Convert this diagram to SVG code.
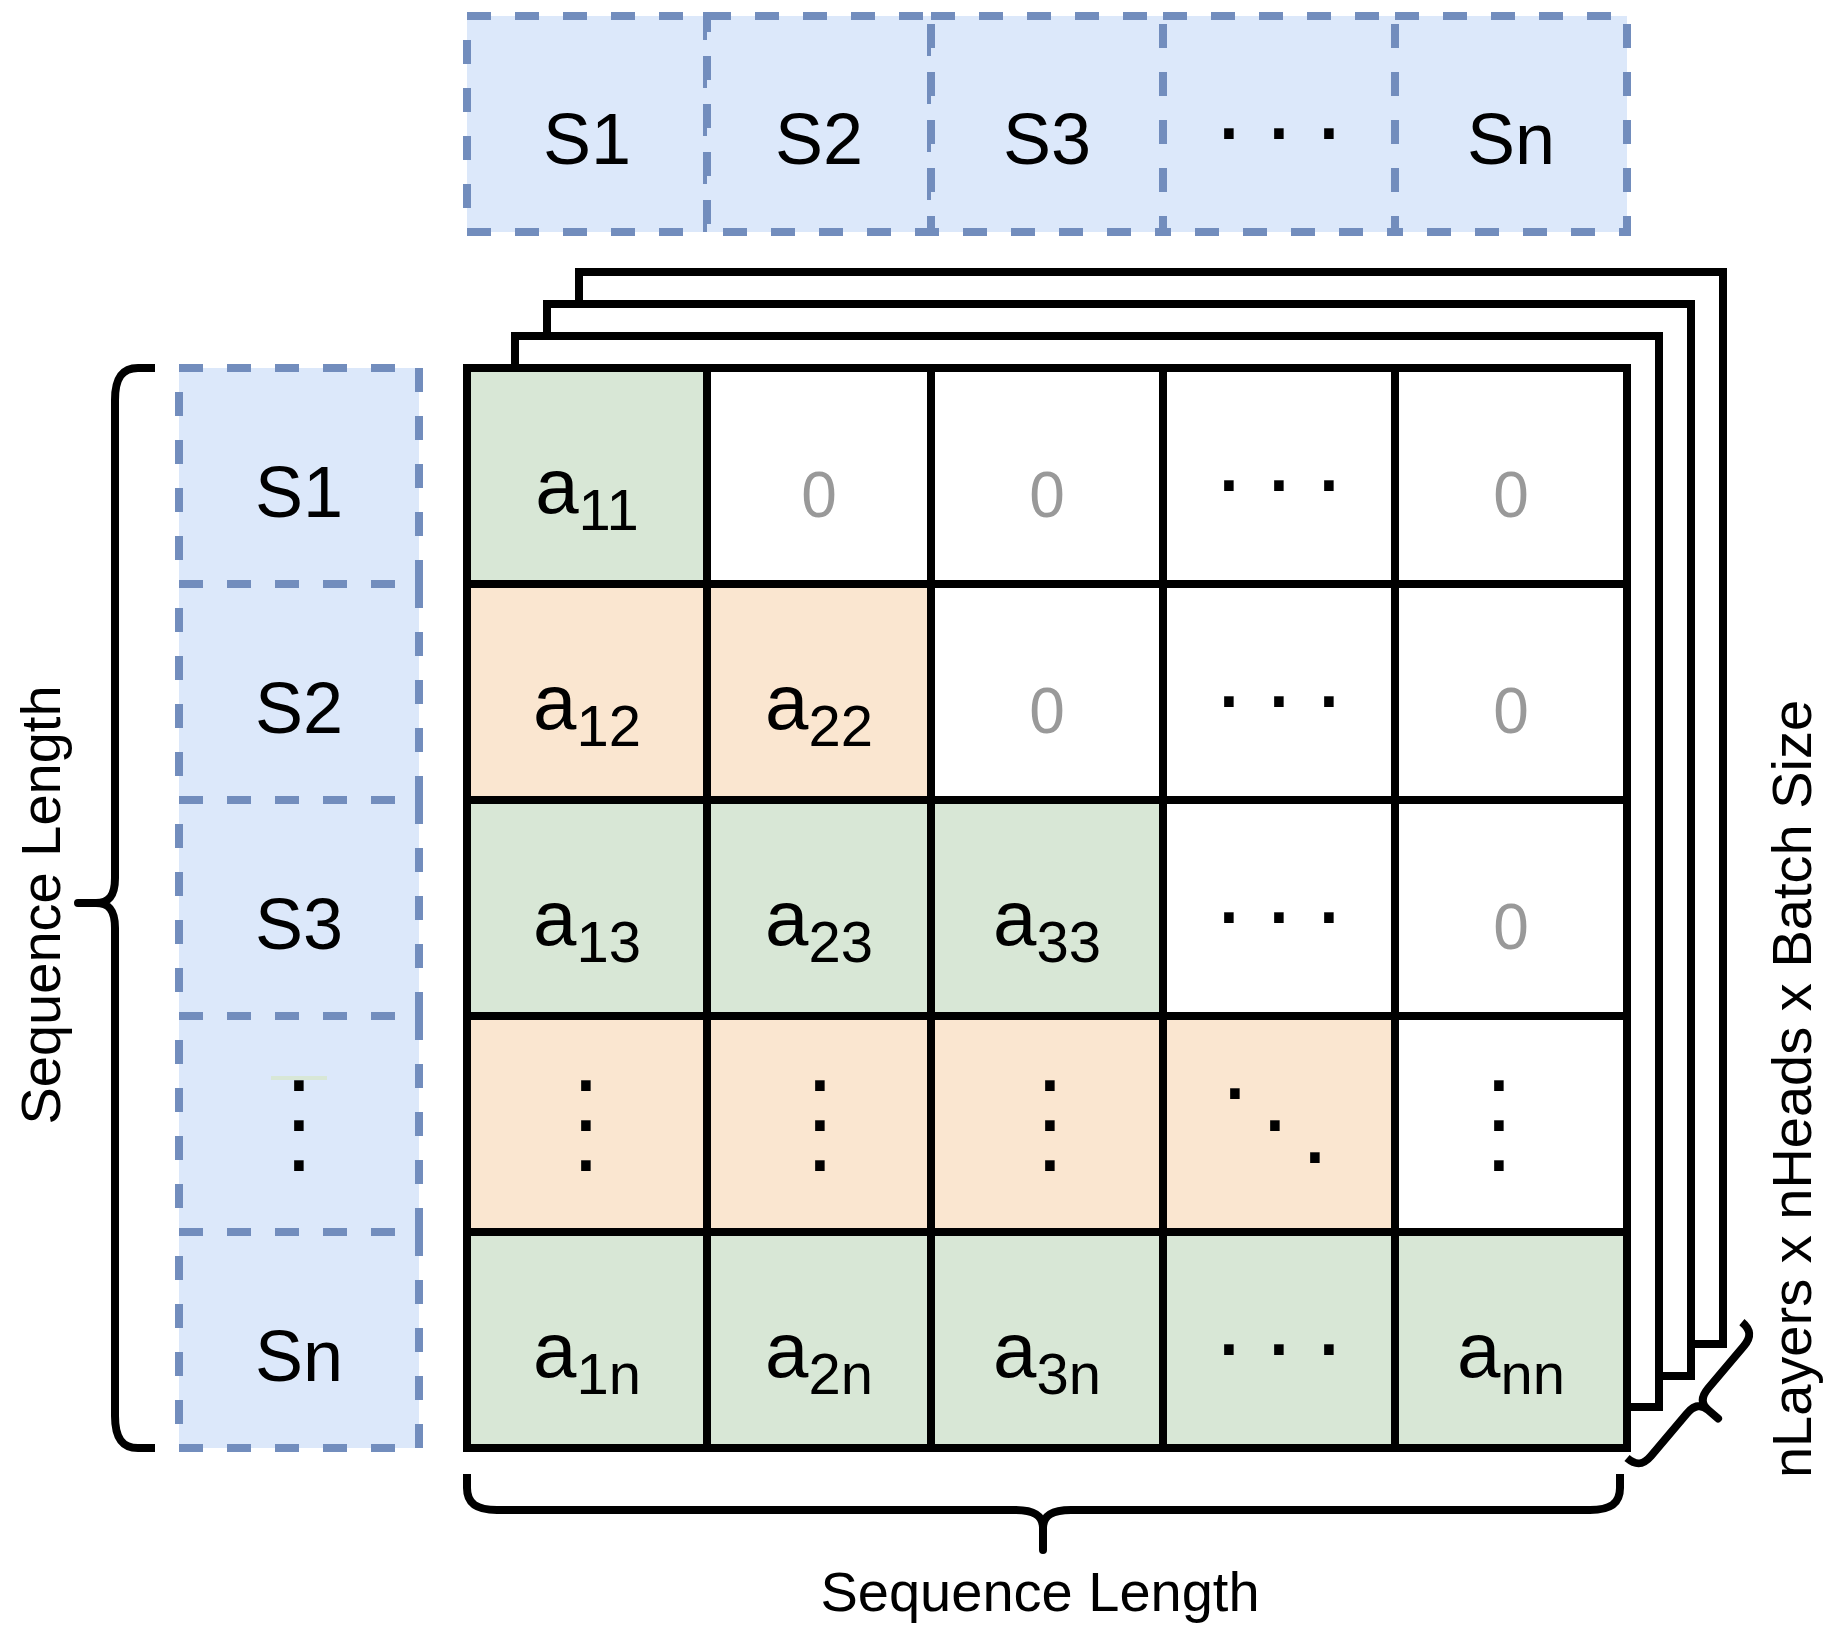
<svg xmlns="http://www.w3.org/2000/svg" width="1828" height="1634" viewBox="0 0 1828 1634">
<style>
.bg{fill:#fff}
.blue{fill:#dce8fa;stroke:#728dbd;stroke-width:8;stroke-dasharray:24 24}
.cell{stroke:#000;stroke-width:8}
.g{fill:#d8e7d6}.o{fill:#fae6d0}.w{fill:#fff}
.layer{fill:#fff;stroke:#000;stroke-width:8}
.brace{fill:none;stroke:#000;stroke-width:8;stroke-linejoin:round}
text{font-family:"Liberation Sans",Arial,Helvetica,sans-serif;text-anchor:middle;fill:#000}
.s{font-size:72px}.z{font-size:64px;fill:#999}.a{font-size:78px}.sub{font-size:58px}.dots{font-size:100px}.lbl{font-size:56px}
</style>
<rect class="bg" x="0" y="0" width="1828" height="1634"/>

<g id="layers">
<rect class="layer" x="579" y="272" width="1144" height="1072"/>
<rect class="layer" x="547" y="304" width="1144" height="1072"/>
<rect class="layer" x="515" y="336" width="1144" height="1071"/>
</g>

<g id="matrix">
<g id="row1">
<rect class="cell g" x="467" y="368" width="240" height="216"/>
<rect class="cell w" x="707" y="368" width="224" height="216"/>
<rect class="cell w" x="931" y="368" width="232" height="216"/>
<rect class="cell w" x="1163" y="368" width="232" height="216"/>
<rect class="cell w" x="1395" y="368" width="232" height="216"/>
<text class="a" x="587" y="513">a<tspan class="sub" dy="17">11</tspan></text>
<text class="z" x="819" y="517">0</text>
<text class="z" x="1047" y="517">0</text>
<text class="dots" x="1229 1279 1329" y="491">...</text>
<text class="z" x="1511" y="517">0</text>
</g>
<g id="row2">
<rect class="cell o" x="467" y="584" width="240" height="216"/>
<rect class="cell o" x="707" y="584" width="224" height="216"/>
<rect class="cell w" x="931" y="584" width="232" height="216"/>
<rect class="cell w" x="1163" y="584" width="232" height="216"/>
<rect class="cell w" x="1395" y="584" width="232" height="216"/>
<text class="a" x="587" y="729">a<tspan class="sub" dy="17">12</tspan></text>
<text class="a" x="819" y="729">a<tspan class="sub" dy="17">22</tspan></text>
<text class="z" x="1047" y="733">0</text>
<text class="dots" x="1229 1279 1329" y="707">...</text>
<text class="z" x="1511" y="733">0</text>
</g>
<g id="row3">
<rect class="cell g" x="467" y="800" width="240" height="216"/>
<rect class="cell g" x="707" y="800" width="224" height="216"/>
<rect class="cell g" x="931" y="800" width="232" height="216"/>
<rect class="cell w" x="1163" y="800" width="232" height="216"/>
<rect class="cell w" x="1395" y="800" width="232" height="216"/>
<text class="a" x="587" y="945">a<tspan class="sub" dy="17">13</tspan></text>
<text class="a" x="819" y="945">a<tspan class="sub" dy="17">23</tspan></text>
<text class="a" x="1047" y="945">a<tspan class="sub" dy="17">33</tspan></text>
<text class="dots" x="1229 1279 1329" y="923">...</text>
<text class="z" x="1511" y="949">0</text>
</g>
<g id="row4">
<rect class="cell o" x="467" y="1016" width="240" height="216"/>
<rect class="cell o" x="707" y="1016" width="224" height="216"/>
<rect class="cell o" x="931" y="1016" width="232" height="216"/>
<rect class="cell o" x="1163" y="1016" width="232" height="216"/>
<rect class="cell w" x="1395" y="1016" width="232" height="216"/>
<text class="dots" x="586 586 586" y="1091 1131 1171">...</text>
<text class="dots" x="820 820 820" y="1091 1131 1171">...</text>
<text class="dots" x="1050 1050 1050" y="1091 1131 1171">...</text>
<text class="dots" x="1235 1275 1315" y="1099 1131 1163">...</text>
<text class="dots" x="1499 1499 1499" y="1091 1131 1171">...</text>
</g>
<g id="row5">
<rect class="cell g" x="467" y="1232" width="240" height="216"/>
<rect class="cell g" x="707" y="1232" width="224" height="216"/>
<rect class="cell g" x="931" y="1232" width="232" height="216"/>
<rect class="cell g" x="1163" y="1232" width="232" height="216"/>
<rect class="cell g" x="1395" y="1232" width="232" height="216"/>
<text class="a" x="587" y="1377">a<tspan class="sub" dy="17">1n</tspan></text>
<text class="a" x="819" y="1377">a<tspan class="sub" dy="17">2n</tspan></text>
<text class="a" x="1047" y="1377">a<tspan class="sub" dy="17">3n</tspan></text>
<text class="dots" x="1229 1279 1329" y="1355">...</text>
<text class="a" x="1511" y="1377">a<tspan class="sub" dy="17">nn</tspan></text>
</g>
</g>

<g id="top-seq">
<g id="top-s1"><rect class="blue" x="467" y="16" width="240" height="216"/><text class="s" x="587" y="164">S1</text></g>
<g id="top-s2"><rect class="blue" x="707" y="16" width="224" height="216"/><text class="s" x="819" y="164">S2</text></g>
<g id="top-s3"><rect class="blue" x="931" y="16" width="232" height="216"/><text class="s" x="1047" y="164">S3</text></g>
<g id="top-dots"><rect class="blue" x="1163" y="16" width="232" height="216"/><text class="dots" x="1229 1279 1329" y="139">...</text></g>
<g id="top-sn"><rect class="blue" x="1395" y="16" width="232" height="216"/><text class="s" x="1511" y="164">Sn</text></g>
</g>

<g id="left-seq">
<g id="left-s1"><rect class="blue" x="179" y="368" width="240" height="216"/><text class="s" x="299" y="517">S1</text></g>
<g id="left-s2"><rect class="blue" x="179" y="584" width="240" height="216"/><text class="s" x="299" y="733">S2</text></g>
<g id="left-s3"><rect class="blue" x="179" y="800" width="240" height="216"/><text class="s" x="299" y="949">S3</text></g>
<g id="left-dots"><rect class="blue" x="179" y="1016" width="240" height="216"/><rect x="271" y="1076" width="56" height="4" fill="#d8e7d6"/><text class="dots" x="299 299 299" y="1091 1131 1171">...</text></g>
<g id="left-sn"><rect class="blue" x="179" y="1232" width="240" height="216"/><text class="s" x="299" y="1381">Sn</text></g>
</g>

<g id="connectors">
<path id="brace-left" class="brace" d="M155,368 H138 C122,368 115,378 115,400 V878 C115,896 109,903 96,903 H78 H96 C109,903 115,910 115,928 V1416 C115,1438 122,1448 138,1448 H155"/>
<path id="brace-bottom" class="brace" d="M467,1474 V1488 C467,1504 477,1510 497,1510 H1015 C1033,1510 1043,1515 1043,1528 V1550 V1528 C1043,1515 1053,1510 1071,1510 H1590 C1610,1510 1620,1504 1620,1488 V1474"/>
<path id="brace-right" class="brace" transform="translate(1640,1469) rotate(-49.8)" d="M0,-17 C0,-5 5,0 17,0 H72 C84,0 89,5 89,14 V27 V14 C89,5 94,0 106,0 H161 C173,0 178,-5 178,-17"/>
</g>

<g id="labels">
<text class="lbl" transform="translate(60,905) rotate(-90)">Sequence Length</text>
<text class="lbl" x="1040" y="1611">Sequence Length</text>
<text class="lbl" transform="translate(1811,1089) rotate(-90)">nLayers x nHeads x Batch Size</text>
</g>
</svg>
